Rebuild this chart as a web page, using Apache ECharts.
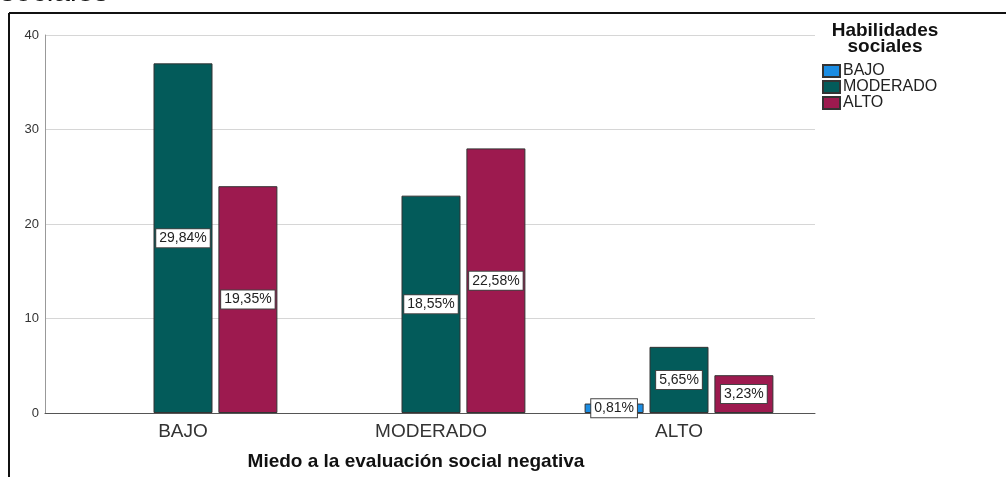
<!DOCTYPE html>
<html>
<head>
<meta charset="utf-8">
<script src="https://cdn.jsdelivr.net/npm/echarts@6/dist/echarts.min.js"></script>
<style>html,body{margin:0;padding:0;background:#fff}#c{width:1006px;height:477px}</style>
</head>
<body>
<div id="c"></div>
<script>
const categories = ['BAJO', 'MODERADO', 'ALTO'];
const seriesNames = ['BAJO', 'MODERADO', 'ALTO'];
const bajoValues = [0, 0, 1];
const moderadoValues = [37, 23, 7];
const altoValues = [24, 28, 4];
const yTicks = [0, 10, 20, 30, 40];
const xTitle = 'Miedo a la evaluación social negativa';
const legendTitle = 'Habilidades\nsociales';
const cutTitle = 'sociales';

const colors = ['#1b8de3', '#035b5a', '#9d1a4f'];
const FONT = '"Liberation Sans", Arial, sans-serif';
const allValues = [bajoValues, moderadoValues, altoValues];
const total = allValues.flat().reduce((a, b) => a + b, 0);

const chart = echarts.init(document.getElementById('c'));

const series = allValues.map((vals, i) => ({
  name: seriesNames[i],
  type: 'bar',
  xAxisIndex: 0,
  yAxisIndex: 0,
  barWidth: 59,
  barGap: '10%',
  itemStyle: { color: colors[i], borderColor: '#333', borderWidth: 1 },
  data: vals.map(v => ({
    value: v,
    itemStyle: { borderWidth: v > 0 ? 1 : 0 },
    label: { show: v > 0 }
  })),
  label: {
    show: true,
    position: 'inside',
    formatter: p => (p.value / total * 100).toFixed(2).replace('.', ',') + '%',
    backgroundColor: '#fff',
    borderColor: '#444',
    borderWidth: 1,
    padding: [2, 3, 1, 3],
    fontSize: 14,
    lineHeight: 15,
    color: '#222',
    fontFamily: FONT
  }
}));

chart.setOption({
  animation: false,
  backgroundColor: '#fff',
  grid: [
    { left: 59, width: 744, top: 35, height: 378 },
    { left: 45, width: 770, top: 35, height: 378 }
  ],
  xAxis: [
    {
      type: 'category', gridIndex: 0, data: categories,
      axisLine: { show: false }, axisTick: { show: false },
      axisLabel: { fontSize: 19, color: '#333', margin: 9, fontFamily: FONT },
      splitLine: { show: false }
    },
    {
      type: 'value', gridIndex: 1, min: 0, max: 1,
      axisLine: { show: true, onZero: false, lineStyle: { color: '#555', width: 1 } },
      axisTick: { show: false }, axisLabel: { show: false }, splitLine: { show: false }
    }
  ],
  yAxis: [
    { type: 'value', gridIndex: 0, min: yTicks[0], max: yTicks[yTicks.length - 1], show: false, splitLine: { show: false } },
    {
      type: 'value', gridIndex: 1, min: yTicks[0], max: yTicks[yTicks.length - 1], interval: yTicks[1] - yTicks[0],
      axisLine: { show: true, lineStyle: { color: '#999', width: 1 } },
      axisTick: { show: false },
      axisLabel: { fontSize: 13, color: '#333', margin: 6, fontFamily: FONT },
      splitLine: { show: true, lineStyle: { color: '#d6d6d6', width: 1 } }
    }
  ],
  legend: {
    orient: 'vertical',
    left: 822, top: 63,
    padding: 0,
    itemWidth: 17, itemHeight: 12, itemGap: 0,
    icon: 'rect',
    data: seriesNames,
    textStyle: { fontSize: 16, color: '#222', fontFamily: FONT, lineHeight: 13, padding: [0, 0, 0, -2] }
  },
  title: {
    text: legendTitle,
    left: 885, top: 23, textAlign: 'center', padding: 0,
    textStyle: { fontSize: 19, fontWeight: 'bold', color: '#111', fontFamily: FONT, lineHeight: 16 }
  },
  graphic: [
    { type: 'line', shape: { x1: 9, y1: 13, x2: 1006, y2: 13 }, style: { stroke: '#111', lineWidth: 2 } },
    { type: 'line', shape: { x1: 9, y1: 13, x2: 9, y2: 477 }, style: { stroke: '#111', lineWidth: 2 } },
    { type: 'text', x: 0, y: -7, style: { text: cutTitle, font: '30px ' + FONT, fill: '#111', textAlign: 'left', textVerticalAlign: 'middle', verticalAlign: 'middle' } },
    { type: 'text', x: 416, y: 462, style: { text: xTitle, font: 'bold 19px ' + FONT, fill: '#111', align: 'center', verticalAlign: 'middle', textAlign: 'center', textVerticalAlign: 'middle' } }
  ],
  series: series
});
</script>
</body>
</html>
